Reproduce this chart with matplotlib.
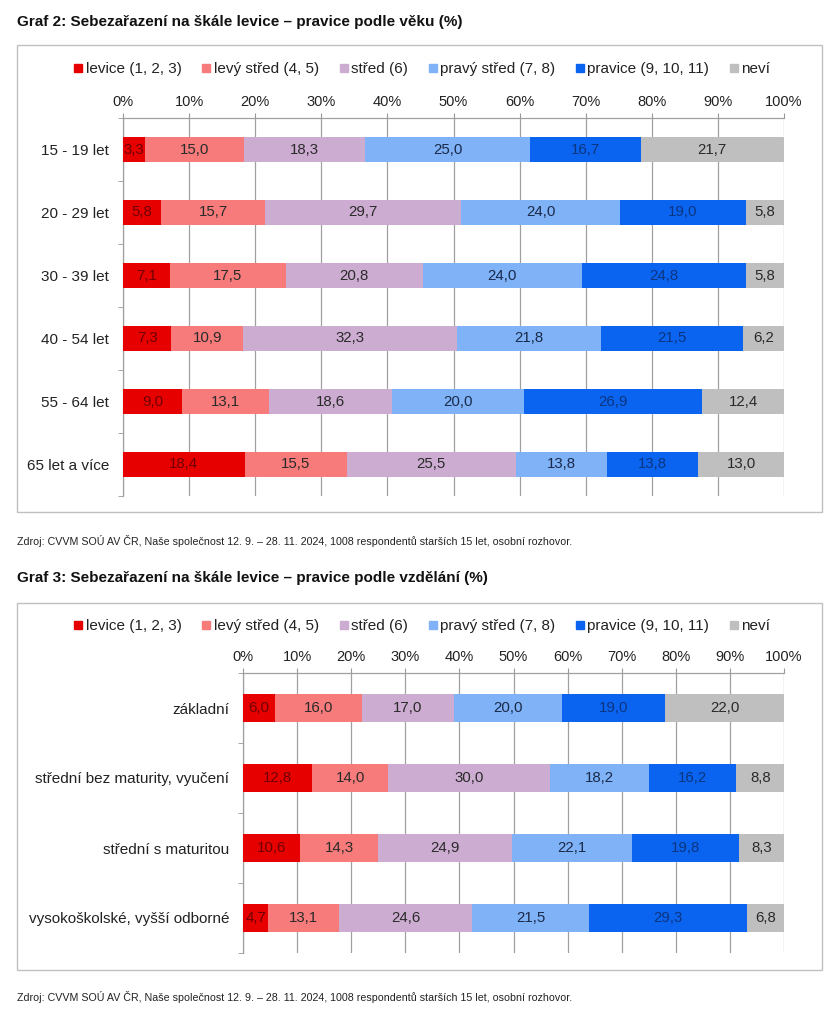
import numpy as np
import matplotlib
matplotlib.use("Agg")
import matplotlib.pyplot as plt
from matplotlib.lines import Line2D
from matplotlib.patches import Rectangle

plt.rcParams['font.family'] = ['Liberation Sans', 'DejaVu Sans']

# ---- data ----
serie_nazvy = ["levice (1, 2, 3)", "levý střed (4, 5)", "střed (6)",
               "pravý střed (7, 8)", "pravice (9, 10, 11)", "neví"]
barvy = ['#e60000', '#f77b7b', '#cdacd2', '#7fb2f7', '#0a64f0', '#bfbfbf']
barvy_textu = ['#700000', '#2a2a2a', '#2a2a2a', '#1a2a4a', '#0b3580', '#2a2a2a']

vek_kategorie = ["15 - 19 let", "20 - 29 let", "30 - 39 let",
                 "40 - 54 let", "55 - 64 let", "65 let a více"]
vek_levice = [3.3, 5.8, 7.1, 7.3, 9.0, 18.4]
vek_levy_stred = [15.0, 15.7, 17.5, 10.9, 13.1, 15.5]
vek_stred = [18.3, 29.7, 20.8, 32.3, 18.6, 25.5]
vek_pravy_stred = [25.0, 24.0, 24.0, 21.8, 20.0, 13.8]
vek_pravice = [16.7, 19.0, 24.8, 21.5, 26.9, 13.8]
vek_nevi = [21.7, 5.8, 5.8, 6.2, 12.4, 13.0]

vzd_kategorie = ["základní", "střední bez maturity, vyučení",
                 "střední s maturitou", "vysokoškolské, vyšší odborné"]
vzd_levice = [6.0, 12.8, 10.6, 4.7]
vzd_levy_stred = [16.0, 14.0, 14.3, 13.1]
vzd_stred = [17.0, 30.0, 24.9, 24.6]
vzd_pravy_stred = [20.0, 18.2, 22.1, 21.5]
vzd_pravice = [19.0, 16.2, 19.8, 29.3]
vzd_nevi = [22.0, 8.8, 8.3, 6.8]

x_ticks = list(range(0, 101, 10))
x_tick_labels = [f"{t}%" for t in x_ticks]

zdroj = ("Zdroj: CVVM SOÚ AV ČR, Naše společnost 12. 9. – 28. 11. 2024, "
         "1008 respondentů starších 15 let, osobní rozhovor.")

W, H = 840, 1024
fig = plt.figure(figsize=(W / 100, H / 100), dpi=100)
fig.patch.set_facecolor('white')


def fy(py):
    return 1 - py / H


def box(px0, py0, px1, py1):
    fig.patches.append(Rectangle((px0 / W, fy(py1)), (px1 - px0) / W, (py1 - py0) / H,
                                 transform=fig.transFigure, fill=False,
                                 edgecolor='#c0c0c0', linewidth=1.0))


def graf(rect_px, kategorie, serie, bar_h, legend_y):
    x0, y0, x1, y1 = rect_px
    ax = fig.add_axes([x0 / W, fy(y1), (x1 - x0) / W, (y1 - y0) / H])
    n = len(kategorie)
    y = np.arange(n)
    left = np.zeros(n)
    for i, vals in enumerate(serie):
        vals = np.array(vals)
        ax.barh(y, vals, left=left, height=bar_h, color=barvy[i], zorder=3,
                label=serie_nazvy[i])
        for yy, l, v in zip(y, left, vals):
            ax.text(l + v / 2, yy, f"{v:.1f}".replace('.', ','), ha='center', va='center',
                    fontsize=10.8, color=barvy_textu[i], zorder=4)
        left += vals
    ax.set_xlim(0, 100)
    ax.set_ylim(n - 0.5, -0.5)
    ax.set_xticks(x_ticks)
    ax.set_xticklabels(x_tick_labels)
    ax.xaxis.tick_top()
    ax.tick_params(axis='x', length=3.5, color='#999999', labelsize=10.5, pad=3,
                   labelcolor='#222222')
    ax.set_yticks(y)
    ax.set_yticklabels(kategorie)
    ax.set_yticks(np.arange(n + 1) - 0.5, minor=True)
    ax.tick_params(axis='y', which='major', length=0, labelsize=11, pad=10,
                   labelcolor='#222222')
    ax.tick_params(axis='y', which='minor', length=3.5, color='#999999')
    ax.grid(axis='x', color='#a0a0a0', linewidth=0.9, zorder=0)
    for s in ['right', 'bottom']:
        ax.spines[s].set_visible(False)
    for s in ['top', 'left']:
        ax.spines[s].set_color('#a0a0a0')
        ax.spines[s].set_linewidth(0.9)
    handles = [Line2D([], [], marker='s', linestyle='none', markersize=6,
                      markerfacecolor=c, markeredgecolor=c) for c in barvy]
    fig.legend(handles, serie_nazvy, loc='center', ncol=6,
               bbox_to_anchor=(422 / W, fy(legend_y)), frameon=False,
               fontsize=11, handlelength=0.55, handletextpad=0.2,
               columnspacing=1.35, labelcolor='#222222')
    return ax


# ---- Graf 2 ----
fig.text(17 / W, fy(22), "Graf 2: Sebezařazení na škále levice – pravice podle věku (%)",
         fontsize=11, fontweight='bold', ha='left', va='center', color='#111111')
box(17, 45, 822, 512)
graf((123, 118, 784, 496), vek_kategorie,
     [vek_levice, vek_levy_stred, vek_stred, vek_pravy_stred, vek_pravice, vek_nevi],
     0.39, 69)
fig.text(17 / W, fy(541), zdroj, fontsize=7.7, ha='left', va='center', color='#222222')

# ---- Graf 3 ----
fig.text(17 / W, fy(578), "Graf 3: Sebezařazení na škále levice – pravice podle vzdělání (%)",
         fontsize=11, fontweight='bold', ha='left', va='center', color='#111111')
box(17, 603, 822, 970)
graf((243, 673, 784, 953), vzd_kategorie,
     [vzd_levice, vzd_levy_stred, vzd_stred, vzd_pravy_stred, vzd_pravice, vzd_nevi],
     0.41, 626)
fig.text(17 / W, fy(997), zdroj, fontsize=7.7, ha='left', va='center', color='#222222')

fig.savefig("out.png", dpi=100, facecolor='white')
